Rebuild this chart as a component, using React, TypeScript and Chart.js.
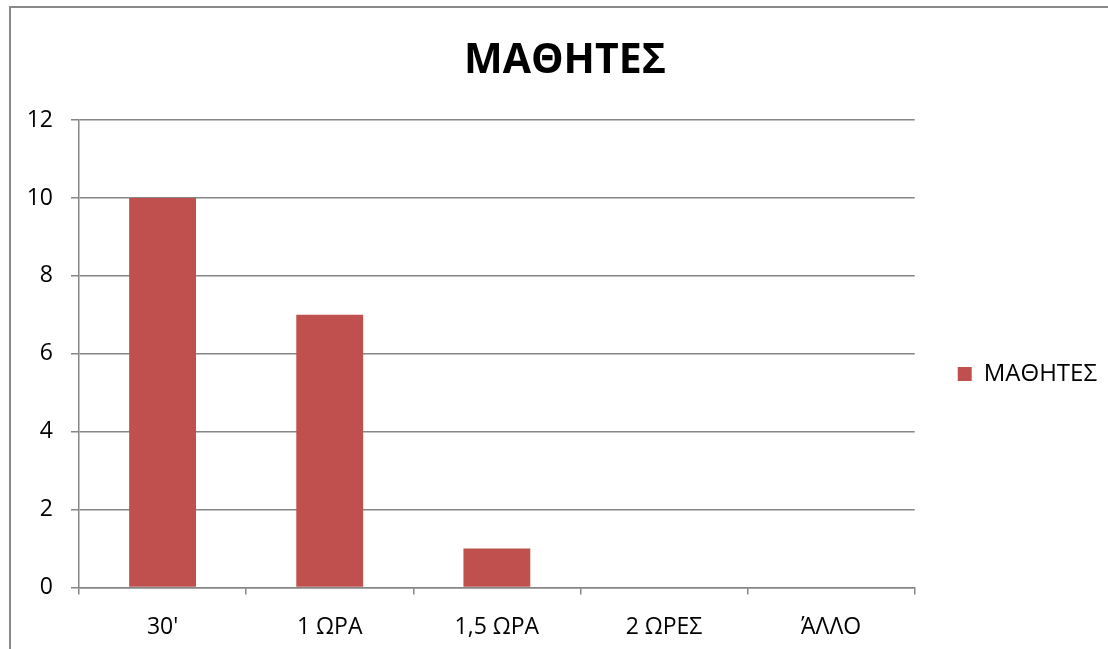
import React, { useEffect, useRef } from "react";
import { Chart, registerables } from "chart.js";

Chart.register(...registerables);

const categories = ["30'", "1 ΩΡΑ", "1,5 ΩΡΑ", "2 ΩΡΕΣ", "ΆΛΛΟ"];
const seriesName = "ΜΑΘΗΤΕΣ";
const values = [10, 7, 1, 0, 0];
const chartTitle = "ΜΑΘΗΤΕΣ";
const yMin = 0;
const yMax = 12;
const yStep = 2;

const FONT = "'Open Sans', 'Liberation Sans', sans-serif";
const GRID = "#868686";
const BAR = "#C0504D";

const legendShift = {
  id: "legendShift",
  afterLayout(chart: any) {
    const lg = chart.legend;
    if (lg) {
      lg.top += 40;
      lg.bottom += 40;
    }
  },
};

export default function App() {
  const ref = useRef<HTMLCanvasElement | null>(null);
  useEffect(() => {
    if (!ref.current) return;
    const chart = new Chart(ref.current, {
      type: "bar",
      data: {
        labels: categories,
        datasets: [
          {
            label: seriesName,
            data: values,
            backgroundColor: BAR,
            borderWidth: 0,
            categoryPercentage: 1,
            barPercentage: 0.4,
          },
        ],
      },
      plugins: [legendShift],
      options: {
        responsive: false,
        animation: false,
        maintainAspectRatio: false,
        layout: { padding: { left: 12, right: 12, top: 0, bottom: 1 } },
        plugins: {
          title: {
            display: true,
            text: chartTitle,
            color: "#000",
            font: { family: FONT, size: 41, weight: "bold" },
            padding: { top: 29, bottom: 34 },
          },
          legend: {
            display: true,
            position: "right",
            labels: {
              color: "#000",
              font: { family: FONT, size: 24 },
              boxWidth: 14,
              boxHeight: 14,
              padding: 43,
            },
          },
          tooltip: { enabled: false },
        },
        scales: {
          x: {
            offset: true,
            grid: {
              display: true,
              offset: true,
              drawOnChartArea: false,
              drawTicks: true,
              tickLength: 7,
              color: GRID,
              lineWidth: 1.5,
            },
            border: { display: true, color: GRID, width: 1.5 },
            ticks: {
              color: "#000",
              font: { family: FONT, size: 23 },
              padding: 19,
              maxRotation: 0,
            },
          },
          y: {
            min: yMin,
            max: yMax,
            afterFit: (scale: any) => {
              scale.width = 56;
            },
            grid: {
              display: true,
              color: GRID,
              lineWidth: 1.5,
              tickLength: 8,
            },
            border: { display: true, color: GRID, width: 1.5 },
            ticks: {
              stepSize: yStep,
              color: "#000",
              font: { family: FONT, size: 23 },
              padding: 18,
            },
          },
        },
      },
    });
    return () => chart.destroy();
  }, []);

  return (
    <div
      style={{
        position: "fixed",
        left: 0,
        top: 0,
        width: 1108,
        height: 649,
        overflow: "hidden",
        background: "#fff",
      }}
    >
      <div
        style={{
          position: "absolute",
          left: 9,
          top: 6,
          width: 1160,
          height: 700,
          border: "2px solid #898989",
          boxSizing: "border-box",
        }}
      >
        <canvas ref={ref} width={1108} height={653} style={{ display: "block" }} />
      </div>
    </div>
  );
}
